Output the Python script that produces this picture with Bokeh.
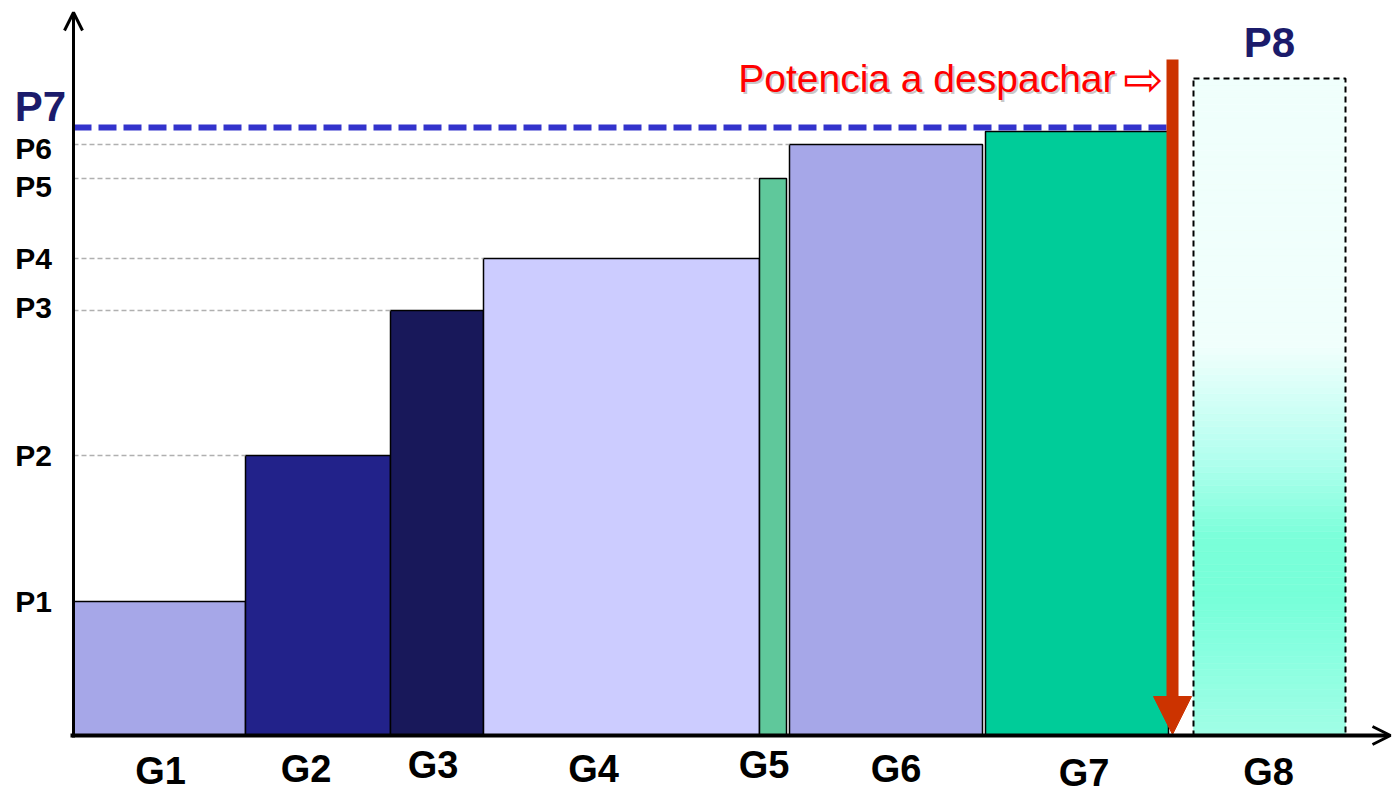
import numpy as np
from bokeh.plotting import figure
from bokeh.models import ColumnDataSource, Arrow, OpenHead, NormalHead, Range1d
from bokeh.core.properties import value
from bokeh.embed import file_html
from bokeh.resources import INLINE

# ---------------- data ----------------
generators = ["G1", "G2", "G3", "G4", "G5", "G6", "G7", "G8"]
cap_start = [0.0, 17.2, 31.7, 41.0, 68.6, 71.6, 91.2, 112.0]
cap_end = [17.2, 31.7, 41.0, 68.6, 71.3, 90.9, 109.5, 127.2]
price = [13.4, 28.0, 42.5, 47.7, 55.7, 59.1, 60.4, 65.7]
price_labels = ["P1", "P2", "P3", "P4", "P5", "P6"]
p7_price = 60.8          # marginal price line (P7)
demand = 109.9           # power to dispatch
demand_top = 67.6
demand_text = "Potencia a despachar"

# ---------------- style ----------------
bar_colors = ["#a6a7e8", "#22228a", "#18185a", "#ccccff", "#5fc89b", "#a6a7e8", "#00cc99"]
navy = "#1b1b6b"
red_arrow = "#cc3300"
FONT = value("Liberation Sans")
g_dx = [0.1, -1.2, -0.4, -2.8, -0.9, 1.0, 0.7, -0.1]
g_dy = [-0.2, 0.0, 0.4, 0.0, 0.4, 0.0, -0.45, -0.3]
p_dy = [0.0, 0.0, 0.3, 0.0, -0.8, -0.4]

p = figure(width=1393, height=793, x_range=Range1d(-7.3, 132.0), y_range=Range1d(-5.8, 73.5),
           output_backend="svg", toolbar_location=None, x_axis_location=None, y_axis_location=None,
           min_border=0)
p.grid.visible = False
p.outline_line_color = None
p.background_fill_color = "white"

# G8 gradient (available but not dispatched)
stops_f = [0.0, 0.01, 0.13, 0.21, 0.30, 0.43, 0.59, 1.0]
stops_c = ["#a2fde7", "#9ffee5", "#88ffe0", "#77ffd9", "#7affd9", "#b5fff0", "#f0fffc", "#f0fffc"]
rgb = np.array([[int(c[i:i + 2], 16) for i in (1, 3, 5)] for c in stops_c], dtype=float)
N = 100
edges = np.linspace(0, price[7], N + 1)
mid = (edges[:-1] + edges[1:]) / 2 / price[7]
cols = []
for f in mid:
    r = [np.interp(f, stops_f, rgb[:, k]) for k in range(3)]
    cols.append("#%02x%02x%02x" % tuple(int(round(v)) for v in r))
p.quad(left=np.full(N, cap_start[7]), right=np.full(N, cap_end[7]), bottom=edges[:-1], top=edges[1:],
       fill_color=cols, line_color=cols, line_width=0.6)
p.quad(left=[cap_start[7]], right=[cap_end[7]], bottom=[0], top=[price[7]], fill_color=None,
       line_color="black", line_width=2, line_dash="6 4")

# dispatched generators
src = ColumnDataSource(dict(left=cap_start[:7], right=cap_end[:7], top=price[:7], bottom=[0] * 7,
                            color=bar_colors))
p.quad(left="left", right="right", top="top", bottom="bottom", fill_color="color",
       line_color="black", line_width=1.5, source=src)

# gray price guide lines
p.segment(x0=[0] * 5, x1=cap_start[1:6], y0=price[1:6], y1=price[1:6], line_color="#b0b0b0",
          line_width=1.5, line_dash="5 3")

# marginal price line
p.segment(x0=[0], x1=[demand], y0=[p7_price], y1=[p7_price], line_color="#3333cc", line_width=6,
          line_dash="18 7")

# demand arrow
p.add_layout(Arrow(x_start=demand, y_start=demand_top, x_end=demand, y_end=0.1, line_width=12,
                   line_color=red_arrow,
                   end=NormalHead(size=38, fill_color=red_arrow, line_color=red_arrow, line_width=1)))

# axes with arrow heads
p.add_layout(Arrow(x_start=-0.3, y_start=0, x_end=131.7, y_end=0, line_width=4, line_color="black",
                   end=OpenHead(size=18, line_width=3, line_color="black")))
p.add_layout(Arrow(x_start=0, y_start=-0.2, x_end=0, y_end=72.3, line_width=3, line_color="black",
                   end=OpenHead(size=18, line_width=3, line_color="black")))

# generator labels
gx = [(a + b) / 2 + d for a, b, d in zip(cap_start, cap_end, g_dx)]
gy = [-3.3 + d for d in g_dy]
p.text(x=gx, y=gy, text=generators, text_font=FONT, text_font_size="38px", text_font_style="bold",
       text_align="center", text_baseline="middle", text_color="black")

# price labels
py = [v + d for v, d in zip(price[:6], p_dy)]
p.text(x=[-4.0] * 6, y=py, text=price_labels, text_font=FONT, text_font_size="30px",
       text_font_style="bold", text_align="center", text_baseline="middle", text_color="black")
p.text(x=[-3.3], y=[p7_price + 2.1], text=["P7"], text_font=FONT, text_font_size="42px",
       text_font_style="bold", text_align="center", text_baseline="middle", text_color=navy)
p.text(x=[(cap_start[7] + cap_end[7]) / 2], y=[price[7] + 3.6], text=["P8"], text_font=FONT,
       text_font_size="42px", text_font_style="bold", text_align="center", text_baseline="middle",
       text_color=navy)

# demand text
ty = demand_top - 1.9
p.text(x=[demand - 5.5], y=[ty - 0.2], text=[demand_text], text_font=FONT, text_font_size="39px",
       text_align="right", text_baseline="middle", text_color="#999999", text_alpha=0.55)
p.text(x=[demand - 5.7], y=[ty], text=[demand_text], text_font=FONT, text_font_size="39px",
       text_align="right", text_baseline="middle", text_color="#ff0000")
p.text(x=[demand - 0.9], y=[ty], text=["\u21e8"], text_font=value("DejaVu Sans"), text_font_size="48px",
       text_align="right", text_baseline="middle", text_color="#ff0000")

open("out.html", "w").write(file_html(p, INLINE))
